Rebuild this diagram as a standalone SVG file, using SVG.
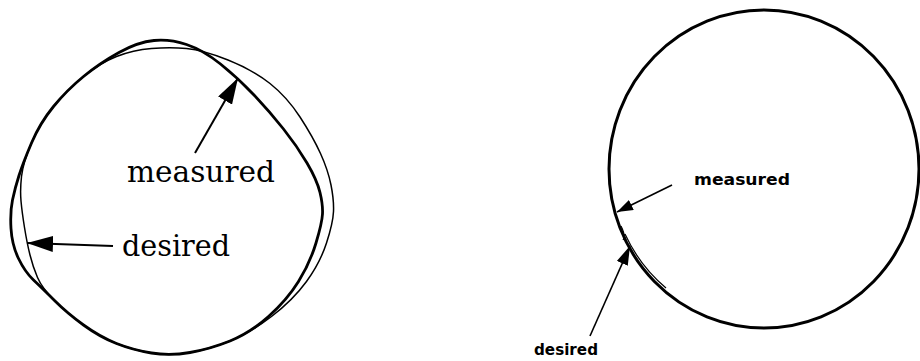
<svg xmlns="http://www.w3.org/2000/svg" width="920" height="361" viewBox="0 0 920 361">
<style>
  .bold { fill: none; stroke: #000; stroke-width: 2.8; stroke-linejoin: round; }
  .thin { fill: none; stroke: #000; stroke-width: 1.5; stroke-linejoin: round; }
  .shaftL { stroke: #000; stroke-width: 2; fill: none; }
  .shaftR { stroke: #000; stroke-width: 1.6; fill: none; }
  .serif { font-family: "DejaVu Serif", "Liberation Serif", serif; font-size: 29px; fill: #000; }
  .sans { font-family: "DejaVu Sans", "Liberation Sans", sans-serif; font-size: 15.5px; font-weight: bold; fill: #000; }
</style>
<defs>
  <marker id="headL" markerUnits="userSpaceOnUse" viewBox="0 0 26 16" refX="26" refY="8" markerWidth="26" markerHeight="16" orient="auto">
    <path d="M0,0 L26,8 L0,16 Z" fill="#000"/>
  </marker>
  <marker id="headR" markerUnits="userSpaceOnUse" viewBox="0 0 16 11" refX="16" refY="5.5" markerWidth="16" markerHeight="11" orient="auto">
    <path d="M0,0 L16,5.5 L0,11 Z" fill="#000"/>
  </marker>
  <marker id="headR2" markerUnits="userSpaceOnUse" viewBox="0 0 19 12" refX="19" refY="6" markerWidth="19" markerHeight="12" orient="auto">
    <path d="M0,0 L19,6 L0,12 Z" fill="#000"/>
  </marker>
</defs>

<g id="left-desired-curve">
  <path class="thin" d="M 186.5,48.5 Q 203,50 228,60 Q 253,70 270,83.5 Q 287,97 300,117 Q 313,137 320.5,153.5 Q 328,170 331,185 Q 334,200 333.5,211.5 Q 333,223 326.5,243 Q 320,263 306.5,281.5 Q 293,300 271.5,316.5 Q 250,333 230,341 Q 210,349 190,352.5 Q 170,356 151.5,353 Q 133,350 116.5,343.5 Q 100,337 83.5,325 Q 67,313 54.5,300.5 Q 42,288 37.5,277.5 Q 33,267 30,255 Q 27,243 24.5,227.5 Q 22,212 21,201 Q 20,190 21.5,176.5 Q 23,163 31.5,143 Q 40,123 53.5,106.5 Q 67,90 83.5,76.5 Q 100,63 116.5,56.5 Q 133,50 151.5,48.5 Q 170,47 186.5,48.5 Z"/>
</g>
<g id="left-measured-curve">
  <path class="bold" d="M 186.5,44.5 Q 203,50 220.5,64 Q 238,78 254,95 Q 270,112 283.5,129 Q 297,146 307,163 Q 317,180 320,192.5 Q 323,205 322.5,214 Q 322,223 316,243 Q 310,263 298.5,281.5 Q 287,300 268.5,316.5 Q 250,333 230,341 Q 210,349 190,352.5 Q 170,356 151.5,353 Q 133,350 116.5,343.5 Q 100,337 83.5,325 Q 67,313 54.5,300.5 Q 42,288 33.5,280 Q 25,272 18.5,258.5 Q 12,245 11,228.5 Q 10,212 12.5,200 Q 15,188 19,175.5 Q 23,163 31.5,143 Q 40,123 53.5,106.5 Q 67,90 83.5,76.5 Q 100,63 119,52.5 Q 138,42 154,40.5 Q 170,39 186.5,44.5 Z"/>
</g>
<g id="left-label-measured">
  <text class="serif" x="127" y="182" textLength="148" lengthAdjust="spacingAndGlyphs">measured</text>
</g>
<g id="left-label-desired">
  <text class="serif" x="122" y="256" textLength="108" lengthAdjust="spacingAndGlyphs">desired</text>
</g>

<g id="right-measured-curve">
  <ellipse class="bold" cx="764" cy="169" rx="155" ry="159" style="stroke-width:3"/>
</g>
<g id="right-desired-curve">
  <path class="thin" d="M621,226 Q626,236 623,240 M625,234 A151,155 0 0 0 666,288" style="stroke-width:1.2"/>
</g>
<g id="right-label-measured">
  <text class="sans" x="694" y="185" textLength="96" lengthAdjust="spacingAndGlyphs">measured</text>
</g>
<g id="right-label-desired">
  <text class="sans" x="534" y="355" textLength="64" lengthAdjust="spacingAndGlyphs">desired</text>
</g>

<g id="connectors">
  <line class="shaftL" x1="195" y1="153" x2="238" y2="78" marker-end="url(#headL)"/>
  <line class="shaftL" x1="113" y1="246" x2="27" y2="243" marker-end="url(#headL)"/>
  <line class="shaftR" x1="672" y1="185" x2="617" y2="212" marker-end="url(#headR)"/>
  <line class="shaftR" x1="590" y1="336" x2="630" y2="246" marker-end="url(#headR2)"/>
</g>
</svg>
